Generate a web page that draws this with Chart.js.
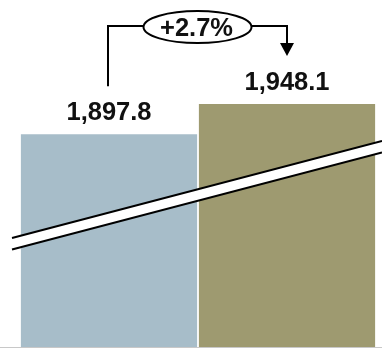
<!DOCTYPE html>
<html>
<head>
<meta charset="utf-8">
<script src="https://cdn.jsdelivr.net/npm/chart.js@4"></script>
<style>
  html, body { margin: 0; padding: 0; background: #ffffff; }
  #wrap { width: 382px; height: 348px; position: relative; }
</style>
</head>
<body>
<div id="wrap"><canvas id="c"></canvas></div>
<script>
const categories = ["Period 1", "Period 2"];
const values = [1897.8, 1948.1];
const valueLabels = ["1,897.8", "1,948.1"];
const changeLabel = "+2.7%";
const barColors = ["#A7BDC9", "#9E9A70"];

const FONT = 'bold 25.5px "Liberation Sans", Arial, sans-serif';

const decorPlugin = {
  id: 'decor',
  afterDatasetsDraw(chart) {
    const ctx = chart.ctx;
    const area = chart.chartArea;
    const meta = chart.getDatasetMeta(0);
    const W = chart.width;

    // axis break band
    const yL = area.bottom - 109, yR = area.bottom - 206, th = 11.5, x0 = area.left - 8, x1 = W;
    ctx.save();
    ctx.beginPath();
    ctx.moveTo(x0, yL); ctx.lineTo(x1, yR); ctx.lineTo(x1, yR + th); ctx.lineTo(x0, yL + th); ctx.closePath();
    ctx.fillStyle = '#ffffff';
    ctx.fill();
    ctx.strokeStyle = '#000000';
    ctx.lineWidth = 2;
    ctx.beginPath(); ctx.moveTo(x0, yL); ctx.lineTo(x1, yR); ctx.stroke();
    ctx.beginPath(); ctx.moveTo(x0, yL + th); ctx.lineTo(x1, yR + th); ctx.stroke();

    // bottom axis line
    ctx.strokeStyle = '#C8C8C8';
    ctx.lineWidth = 1;
    ctx.beginPath(); ctx.moveTo(0, area.bottom + 0.5); ctx.lineTo(W, area.bottom + 0.5); ctx.stroke();

    // value labels
    ctx.font = FONT;
    ctx.fillStyle = '#111111';
    ctx.textAlign = 'center';
    ctx.textBaseline = 'alphabetic';
    const tops = [];
    meta.data.forEach((bar, i) => {
      const base = bar.y - 14;
      ctx.fillText(valueLabels[i], bar.x, base);
      tops.push(base - 18);
    });

    // change annotation
    const xa = meta.data[0].x - 1, xb = meta.data[1].x;
    const yTop = Math.min(...tops) - 46;
    const cx = (xa + xb) / 2, rx = 54, ry = 16;
    ctx.strokeStyle = '#000000';
    ctx.lineWidth = 2;
    ctx.beginPath();
    ctx.moveTo(xa, tops[0] - 16);
    ctx.lineTo(xa, yTop);
    ctx.lineTo(cx - rx, yTop);
    ctx.stroke();
    ctx.beginPath();
    ctx.moveTo(cx + rx, yTop);
    ctx.lineTo(xb, yTop);
    ctx.lineTo(xb, tops[1] - 29);
    ctx.stroke();
    // arrow head
    ctx.fillStyle = '#000000';
    ctx.beginPath();
    ctx.moveTo(xb - 7, tops[1] - 29);
    ctx.lineTo(xb + 7, tops[1] - 29);
    ctx.lineTo(xb, tops[1] - 16);
    ctx.closePath();
    ctx.fill();
    // ellipse
    ctx.beginPath();
    ctx.ellipse(cx, yTop + 1, rx, ry, 0, 0, Math.PI * 2);
    ctx.fillStyle = '#ffffff';
    ctx.fill();
    ctx.stroke();
    ctx.fillStyle = '#111111';
    ctx.font = FONT;
    ctx.textBaseline = 'alphabetic';
    ctx.fillText(changeLabel, cx - 1, yTop + 10);
    ctx.restore();
  }
};

new Chart(document.getElementById('c'), {
  type: 'bar',
  data: {
    labels: categories,
    datasets: [{
      data: values,
      backgroundColor: barColors,
      borderWidth: 0,
      barPercentage: 0.99,
      categoryPercentage: 1.0
    }]
  },
  options: {
    responsive: true,
    maintainAspectRatio: false,
    animation: false,
    layout: { padding: { left: 20, right: 6, top: 0, bottom: 1 } },
    plugins: { legend: { display: false }, tooltip: { enabled: false } },
    scales: {
      x: { display: false },
      y: { display: false, min: 1542, max: 2122 }
    }
  },
  plugins: [decorPlugin]
});
</script>
</body>
</html>
